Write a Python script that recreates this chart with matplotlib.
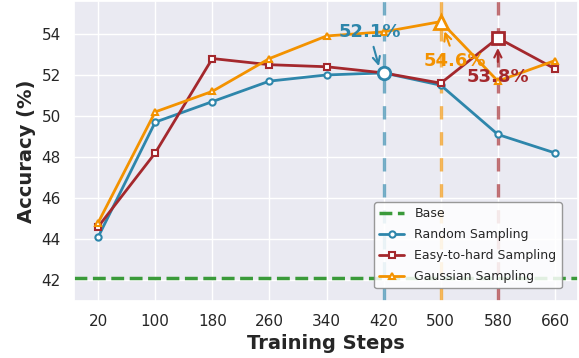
import matplotlib
import matplotlib.pyplot as plt
import seaborn as sns

matplotlib.use("Agg")

steps = [20, 100, 180, 260, 340, 420, 500, 580, 660]
random_acc = [44.1, 49.7, 50.7, 51.7, 52.0, 52.1, 51.5, 49.1, 48.2]
easy_hard_acc = [44.6, 48.2, 52.8, 52.5, 52.4, 52.1, 51.6, 53.8, 52.3]
gaussian_acc = [44.8, 50.2, 51.2, 52.8, 53.9, 54.1, 54.6, 51.7, 52.7]
base_acc = 42.1

blue = "#2E86AB"
red = "#A4282D"
orange = "#F39200"
green = "#3A9A3A"

sns.set_theme(style="darkgrid")
plt.rcParams["font.family"] = ["DejaVu Sans"]

fig, ax = plt.subplots(figsize=(5.79, 3.58), dpi=100)
xs = list(range(len(steps)))

ax.axhline(base_acc, color=green, ls="--", lw=2.5, label="Base", zorder=2)

# best step of each method
for acc, col in [(random_acc, blue), (gaussian_acc, orange), (easy_hard_acc, red)]:
    i = acc.index(max(acc))
    ax.axvline(xs[i], color=col, ls=(0, (4, 3.8)), lw=2.4, alpha=0.65, zorder=1)

ax.plot(xs, random_acc, color=blue, marker="o", ms=4.5, mfc="white", mew=1.5,
        lw=2, label="Random Sampling", zorder=3)
ax.plot(xs, easy_hard_acc, color=red, marker="s", ms=4.5, mfc="white", mew=1.5,
        lw=2, label="Easy-to-hard Sampling", zorder=3)
ax.plot(xs, gaussian_acc, color=orange, marker="^", ms=5, mfc="white", mew=1.5,
        lw=2, label="Gaussian Sampling", zorder=3)

# larger markers at peaks
ib = random_acc.index(max(random_acc))
ax.plot(xs[ib], random_acc[ib], marker="o", ms=9, mfc="white", mec=blue, mew=2, zorder=4)
io = gaussian_acc.index(max(gaussian_acc))
ax.plot(xs[io], gaussian_acc[io], marker="^", ms=10, mfc="white", mec=orange, mew=2, zorder=4)
ir = easy_hard_acc.index(max(easy_hard_acc))
ax.plot(xs[ir], easy_hard_acc[ir], marker="s", ms=9, mfc="white", mec=red, mew=2, zorder=4)

ax.annotate(f"{random_acc[ib]}%", xy=(xs[ib] - 0.07, random_acc[ib] + 0.2),
            xytext=(xs[ib] - 0.25, 54.1), color=blue, fontsize=13, fontweight="bold",
            ha="center", va="center", zorder=6,
            arrowprops=dict(arrowstyle="->", color=blue, lw=1.5))
ax.annotate(f"{gaussian_acc[io]}%", xy=(xs[io] + 0.05, gaussian_acc[io] - 0.35),
            xytext=(xs[io] + 0.25, 52.7), color=orange, fontsize=13, fontweight="bold",
            ha="center", va="center", zorder=6,
            arrowprops=dict(arrowstyle="->", color=orange, lw=1.5))
ax.annotate(f"{easy_hard_acc[ir]}%", xy=(xs[ir], easy_hard_acc[ir] - 0.35),
            xytext=(xs[ir], 51.9), color=red, fontsize=13, fontweight="bold",
            ha="center", va="center", zorder=6,
            arrowprops=dict(arrowstyle="->", color=red, lw=1.5))

ax.set_xticks(xs)
ax.set_xticklabels([str(s) for s in steps], fontsize=11)
ax.set_yticks([42, 44, 46, 48, 50, 52, 54])
ax.tick_params(axis="y", labelsize=11)
ax.set_xlim(-0.42, 8.4)
ax.set_ylim(41.0, 55.6)
ax.set_xlabel("Training Steps", fontsize=14, fontweight="bold")
ax.set_ylabel("Accuracy (%)", fontsize=14, fontweight="bold")

leg = ax.legend(loc="lower right", bbox_to_anchor=(0.98, 0.02), fontsize=9,
                labelspacing=0.65, frameon=True, facecolor="white",
                edgecolor="#888888", framealpha=0.85)
leg.get_frame().set_linewidth(1.0)
leg.set_zorder(7)

fig.subplots_adjust(left=0.128, right=0.998, top=0.997, bottom=0.16)
fig.savefig("out.png", dpi=100)
